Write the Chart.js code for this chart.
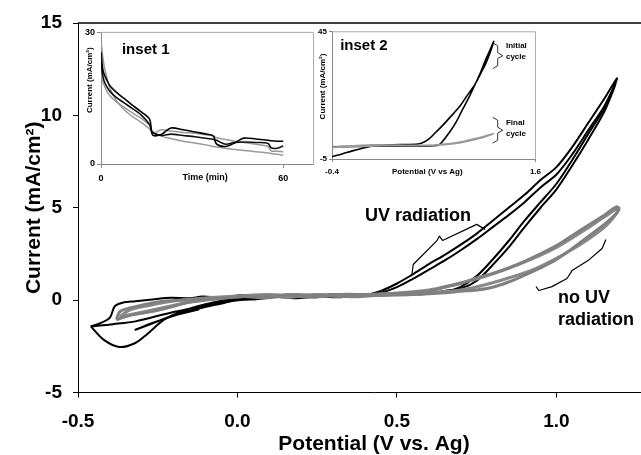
<!DOCTYPE html>
<html>
<head>
<meta charset="utf-8">
<script src="https://cdn.jsdelivr.net/npm/chart.js@4.4.1/dist/chart.umd.min.js"></script>
<style>
  html, body { margin: 0; padding: 0; background: #fff; }
  #wrap { position: relative; width: 641px; height: 455px; overflow: hidden; }
  #main { position: absolute; left: 0; top: 0; }
  #inset1 { position: absolute; left: 82px; top: 25px; }
  #inset2 { position: absolute; left: 318px; top: 25px; }
</style>
</head>
<body>
<div id="wrap">
  <canvas id="main" width="670" height="455"></canvas>
  <canvas id="inset1" width="234" height="165"></canvas>
  <canvas id="inset2" width="228" height="153"></canvas>
</div>
<script>
// main plot: cyclic voltammograms, potential (V vs. Ag) / current (mA/cm2)
const mainXTicks = [-0.5, 0.0, 0.5, 1.0];
const mainYTicks = [-5, 0, 5, 10, 15];

const uvCycle1Potential = [-0.46,-0.39,-0.32,-0.21,-0.11,-0.02,0.05,0.12,0.18,0.25,0.31,0.38,0.45,0.55,0.60,0.65,0.70,0.75,0.80,0.85,0.90,0.95,1.00,1.05,1.10,1.15,1.19,
  1.15,1.10,1.05,1.00,0.95,0.90,0.85,0.80,0.75,0.70,0.65,0.60,0.55,0.50,0.45,0.40,0.33,0.26,0.19,0.12,0.05,0.00,-0.08,-0.16,-0.23,-0.285,-0.32,-0.37,-0.42,-0.46];
const uvCycle1Current = [-1.42,-1.3,-1.15,-0.68,-0.34,-0.05,0.08,0.18,0.10,0.22,0.15,0.24,0.25,0.30,0.35,0.45,0.72,1.30,2.20,3.20,4.30,5.30,6.30,7.60,9.00,10.4,12.0,
  10.9,9.6,8.3,7.2,6.5,5.7,5.0,4.3,3.6,3.0,2.45,1.95,1.4,0.9,0.5,0.28,0.22,0.30,0.16,0.24,0.12,0.10,-0.14,-0.52,-1.06,-1.87,-2.32,-2.54,-2.14,-1.42];

const uvCycle2Potential = [-0.46,-0.43,-0.40,-0.385,-0.36,-0.32,-0.26,-0.21,-0.15,-0.11,-0.05,0.02,0.09,0.16,0.23,0.30,0.37,0.44,0.50,0.55,0.60,0.65,0.70,0.75,0.80,0.85,0.90,0.95,1.00,1.05,1.10,1.15,1.185,
  1.15,1.10,1.05,1.00,0.95,0.90,0.85,0.80,0.75,0.70,0.65,0.60,0.55,0.50,0.45,0.40,0.34,0.27,0.20,0.13,0.06,0.00,-0.06,-0.12,-0.19,-0.25,-0.32,-0.26,-0.19,-0.12];
const uvCycle2Current = [-1.42,-1.25,-0.95,-0.34,-0.14,-0.06,0.05,0.13,0.10,0.19,0.14,0.28,0.18,0.30,0.20,0.32,0.22,0.30,0.34,0.36,0.38,0.50,0.62,1.05,1.90,2.85,3.95,5.00,6.00,7.30,8.70,10.2,11.7,
  10.5,9.2,7.9,6.8,6.1,5.3,4.6,3.95,3.3,2.7,2.15,1.65,1.15,0.70,0.40,0.30,0.18,0.26,0.12,0.20,0.05,0.00,-0.22,-0.45,-0.75,-1.15,-1.60,-1.20,-0.80,-0.50];

const darkCycle1Potential = [-0.38,-0.33,-0.265,-0.21,-0.16,-0.10,-0.05,0.02,0.09,0.16,0.23,0.30,0.37,0.44,0.50,0.55,0.60,0.65,0.70,0.75,0.80,0.85,0.90,0.95,1.00,1.05,1.10,1.15,1.19,
  1.19,1.15,1.10,1.05,1.00,0.95,0.90,0.85,0.80,0.75,0.70,0.65,0.60,0.50,0.42,0.34,0.26,0.18,0.10,0.02,-0.06,-0.14,-0.233,-0.316,-0.368,-0.38];
const darkCycle1Current = [-1.06,-0.80,-0.61,-0.38,-0.15,0.00,0.10,0.20,0.12,0.25,0.15,0.24,0.18,0.26,0.28,0.30,0.34,0.40,0.48,0.55,0.70,0.98,1.35,1.75,2.20,2.80,3.45,4.10,4.75,
  5.05,4.60,4.05,3.50,2.95,2.50,2.10,1.75,1.45,1.20,0.90,0.70,0.50,0.35,0.30,0.32,0.25,0.30,0.22,0.20,0.10,0.02,-0.06,-0.34,-0.61,-1.06];

const darkCycle2Potential = [-0.37,-0.30,-0.22,-0.15,-0.08,0.00,0.08,0.16,0.24,0.32,0.40,0.48,0.55,0.62,0.70,0.78,0.86,0.94,1.02,1.10,1.16,1.195,
  1.195,1.15,1.08,1.00,0.92,0.84,0.76,0.68,0.60,0.50,0.40,0.30,0.20,0.10,0.00,-0.10,-0.20,-0.28,-0.34,-0.37];
const darkCycle2Current = [-0.90,-0.65,-0.35,-0.10,0.05,0.18,0.28,0.15,0.30,0.20,0.28,0.30,0.35,0.42,0.55,0.85,1.25,1.75,2.45,3.30,4.10,4.85,
  5.00,4.50,3.70,2.85,2.20,1.65,1.20,0.85,0.55,0.38,0.30,0.28,0.20,0.30,0.22,0.12,-0.05,-0.30,-0.55,-0.90];

// inset 1: current decay over time
const inset1Time = [0,0.5,1,2,3,5,7.5,10,13,16,17,20,23,27,31,35,37,38,41,44,47,51,55,56,58,60];
const inset1UvA   = [25.5,22,20.5,19,17.8,16.4,15,13.6,12,10.2,6.6,6.8,8.2,7.8,7.3,6.8,6.4,4.6,4.0,4.8,5.9,5.7,5.4,5.3,5.2,5.2];
const inset1UvB   = [23,20.5,19,17.5,16.5,15.2,14,12.8,11.3,9.0,7.2,6.5,6.8,6.5,6.2,5.8,5.6,5.4,4.5,4.9,5.0,4.9,4.7,3.7,3.6,4.1];
const inset1DarkA = [28,25,22.5,19.5,17.2,14.5,12.5,11,9.6,8.0,7.4,6.3,5.8,5.2,4.8,4.3,4.0,3.9,3.6,3.3,3.1,2.8,2.5,2.4,2.2,2.0];
const inset1DarkB = [21,19,18,16.5,15.5,14.2,13,11.8,10.5,8.8,7.0,7.8,7.5,7.2,7.0,6.6,6.4,6.0,5.6,5.2,4.9,4.5,4.0,3.0,2.9,2.8];

// inset 2: initial and final cycle
const initialPotential = [-0.40,-0.30,-0.20,-0.10,0.04,0.20,0.35,0.46,0.52,0.56,0.62,0.69,0.77,0.85,0.93,1.01,1.06,1.11,1.16,1.19,
  1.15,1.11,1.06,1.01,0.95,0.88,0.82,0.75,0.70,0.654,0.60,0.40,0.20,0.00,-0.20,-0.40];
const initialCurrent = [-4.1,-3.0,-1.8,-0.8,0.3,0.6,0.7,1.0,2.0,3.1,5.5,8.3,11.8,15.4,20.0,24.6,28.5,32.4,37.5,41.3,
  37.5,34.0,29.0,24.6,19.5,14.2,9.5,5.2,2.6,0.6,0.2,0.1,0.1,0.0,-0.1,-0.2];
const finalPotential = [-0.40,0.00,0.40,0.60,0.80,0.90,1.00,1.10,1.19,1.10,1.00,0.80,0.60,0.20,-0.40];
const finalCurrent   = [-0.3,0.6,0.4,0.5,1.3,2.0,3.0,4.0,5.0,3.6,2.6,1.0,0.4,0.3,-0.5];

const FONT = "'Liberation Sans', Arial, sans-serif";

function toPoints(xs, ys) {
  return xs.map((x, i) => ({ x: x, y: ys[i] }));
}

// texts and braces placed in data coordinates
const notes = {
  id: 'notes',
  afterDatasetsDraw(chart, args, opts) {
    const ctx = chart.ctx;
    const sx = chart.scales.x, sy = chart.scales.y;
    ctx.save();
    (opts.braces || []).forEach(b => {
      ctx.beginPath();
      b.x.forEach((v, i) => {
        const px = sx.getPixelForValue(v), py = sy.getPixelForValue(b.y[i]);
        if (i === 0) ctx.moveTo(px, py); else ctx.lineTo(px, py);
      });
      ctx.lineWidth = b.width || 1;
      ctx.lineJoin = 'round';
      ctx.strokeStyle = '#000';
      ctx.stroke();
    });
    (opts.texts || []).forEach(t => {
      ctx.save();
      ctx.font = t.font;
      ctx.fillStyle = '#000';
      ctx.textAlign = t.align || 'left';
      ctx.textBaseline = 'middle';
      ctx.translate(sx.getPixelForValue(t.x), sy.getPixelForValue(t.y));
      if (t.rotate) ctx.rotate(t.rotate);
      ctx.fillText(t.text, 0, 0);
      ctx.restore();
    });
    ctx.restore();
  }
};

// plot area border lines
const frame = {
  id: 'frame',
  beforeDatasetsDraw(chart, args, opts) {
    const { ctx, chartArea: a } = chart;
    ctx.save();
    ctx.strokeStyle = opts.color || '#000';
    ctx.lineWidth = opts.width || 1;
    ctx.beginPath();
    if (opts.top) { ctx.moveTo(a.left, a.top); ctx.lineTo(a.right, a.top); }
    if (opts.right) { ctx.moveTo(a.right, a.top); ctx.lineTo(a.right, a.bottom); }
    ctx.stroke();
    ctx.restore();
  }
};

function axis(min, max, ticks, size, color, fontSize, pad, tickLen) {
  return {
    type: 'linear', min: min, max: max,
    afterBuildTicks: s => { s.ticks = ticks.map(v => ({ value: v })); },
    afterFit: s => { if (s.isHorizontal()) s.height = size; else s.width = size; },
    grid: { display: true, drawOnChartArea: false, drawTicks: true, tickLength: tickLen, color: color },
    border: { display: true, color: color, width: 1 },
    ticks: { color: '#000', padding: pad, font: { family: FONT, size: fontSize, weight: 'bold' } }
  };
}

const mainX = axis(-0.5, 1.356, mainXTicks, 62.5, '#000', 19, 13, 5);
mainX.ticks.callback = v => v.toFixed(1);
mainX.title = { display: true, text: 'Potential (V vs. Ag)', color: '#000', padding: { top: 0, bottom: -2 },
  font: { family: FONT, size: 21, weight: 'bold' } };
const mainY = axis(-5, 15, mainYTicks, 78, '#000', 19, 11, 5);
mainY.title = { display: true, text: 'Current (mA/cm²)', color: '#000', padding: { top: 22, bottom: 0 },
  font: { family: FONT, size: 21, weight: 'bold' } };

const line = (data, color, width) => ({
  data: data, borderColor: color, borderWidth: width, showLine: true,
  pointRadius: 0, tension: 0.3, fill: false
});

new Chart(document.getElementById('main'), {
  type: 'scatter',
  data: {
    datasets: [
      line(toPoints(darkCycle1Potential, darkCycle1Current), '#808080', 3),
      line(toPoints(darkCycle2Potential, darkCycle2Current), '#8a8a8a', 3),
      line(toPoints(uvCycle1Potential, uvCycle1Current), '#000', 2),
      line(toPoints(uvCycle2Potential, uvCycle2Current), '#000', 2)
    ]
  },
  options: {
    responsive: false,
    animation: false,
    layout: { padding: { top: 23, left: 0, right: 0, bottom: 0 } },
    scales: { x: mainX, y: mainY },
    plugins: {
      legend: { display: false },
      tooltip: { enabled: false },
      frame: { top: true, color: '#000', width: 1.5 },
      notes: {
        braces: [
          { x: [0.546, 0.551, 0.624, 0.633, 0.643, 0.750, 0.776], y: [1.29, 1.93, 3.19, 3.46, 3.23, 4.10, 3.83], width: 1.2 },
          { x: [0.936, 0.945, 0.986, 1.033, 1.049, 1.064, 1.099, 1.143, 1.155], y: [0.73, 0.52, 0.73, 1.17, 1.60, 1.76, 2.14, 2.79, 3.28], width: 1.2 }
        ],
        texts: [
          { text: 'UV radiation', x: 0.40, y: 4.53, font: 'bold 18px ' + FONT },
          { text: 'no UV', x: 1.005, y: 0.14, font: 'bold 18px ' + FONT },
          { text: 'radiation', x: 1.005, y: -1.06, font: 'bold 18px ' + FONT }
        ]
      }
    }
  },
  plugins: [frame, notes]
});

// inset 1
const in1X = axis(0, 70, [0, 60], 26, '#888', 9, 5, 4);
const in1Y = axis(0, 30, [0, 30], 19, '#888', 9, 2, 4);
new Chart(document.getElementById('inset1'), {
  type: 'scatter',
  data: {
    datasets: [
      line(toPoints(inset1Time, inset1UvA), '#000', 1.6),
      line(toPoints(inset1Time, inset1UvB), '#111', 1.6),
      line(toPoints(inset1Time, inset1DarkA), '#999', 1.5),
      line(toPoints(inset1Time, inset1DarkB), '#999', 1.5)
    ]
  },
  options: {
    responsive: false,
    animation: false,
    layout: { padding: { top: 4, left: 0, right: 2.4, bottom: 0 } },
    scales: { x: in1X, y: in1Y },
    plugins: {
      legend: { display: false },
      tooltip: { enabled: false },
      frame: { top: true, right: true, color: '#aaa', width: 1 },
      notes: {
        texts: [
          { text: 'inset 1', x: 6.9, y: 26.1, font: 'bold 15px ' + FONT },
          { text: 'Time (min)', x: 34.3, y: -3.1, align: 'center', font: 'bold 9px ' + FONT },
          { text: 'Current (mA/cm²)', x: -3.6, y: 19.1, align: 'center', rotate: -Math.PI / 2, font: 'bold 8px ' + FONT }
        ]
      }
    }
  },
  plugins: [frame, notes]
});

// inset 2
const in2X = axis(-0.4, 1.6, [-0.4, 1.6], 19, '#888', 8, 5, 3);
in2X.ticks.callback = v => v.toFixed(1);
const in2Y = axis(-5, 45, [-5, 45], 14, '#888', 8, 2, 3);
new Chart(document.getElementById('inset2'), {
  type: 'scatter',
  data: {
    datasets: [
      line(toPoints(finalPotential, finalCurrent), '#999', 1.5),
      line(toPoints(initialPotential, initialCurrent), '#000', 1.6)
    ]
  },
  options: {
    responsive: false,
    animation: false,
    layout: { padding: { top: 6, left: 0, right: 9, bottom: 0 } },
    scales: { x: in2X, y: in2Y },
    plugins: {
      legend: { display: false },
      tooltip: { enabled: false },
      frame: { top: true, right: true, color: '#aaa', width: 1 },
      notes: {
        braces: [
          { x: [1.18, 1.229, 1.229, 1.278, 1.229, 1.229, 1.18], y: [40.7, 39.5, 36.8, 35.6, 34.5, 31.7, 30.5], width: 0.8 },
          { x: [1.18, 1.229, 1.229, 1.278, 1.229, 1.229, 1.18], y: [11.4, 10.2, 7.5, 6.3, 5.2, 2.4, 1.25], width: 0.8 }
        ],
        texts: [
          { text: 'inset 2', x: -0.32, y: 39.5, font: 'bold 15px ' + FONT },
          { text: 'Initial', x: 1.31, y: 39.5, font: 'bold 8px ' + FONT },
          { text: 'cycle', x: 1.31, y: 35.2, font: 'bold 8px ' + FONT },
          { text: 'Final', x: 1.31, y: 9.06, font: 'bold 8px ' + FONT },
          { text: 'cycle', x: 1.31, y: 4.77, font: 'bold 8px ' + FONT },
          { text: 'Potential (V vs Ag)', x: 0.537, y: -10.1, align: 'center', font: 'bold 8px ' + FONT },
          { text: 'Current (mA/cm²)', x: -0.488, y: 23.5, align: 'center', rotate: -Math.PI / 2, font: 'bold 8px ' + FONT }
        ]
      }
    }
  },
  plugins: [frame, notes]
});
</script>
</body>
</html>
